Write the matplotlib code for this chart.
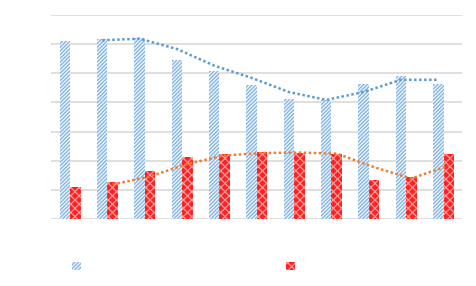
import matplotlib
matplotlib.use("Agg")
import matplotlib.pyplot as plt
import numpy as np
import pandas as pd
from matplotlib.patches import Patch

categories = list(range(1, 12))
blue_vals = [6.10, 6.16, 6.21, 5.45, 5.07, 4.61, 4.10, 4.07, 4.64, 4.91, 4.64]
red_vals = [1.10, 1.27, 1.65, 2.13, 2.23, 2.30, 2.26, 2.23, 1.33, 1.45, 2.23]

BLUE = "#5B9BD5"
BLUE_HATCH = "#80B2E2"
RED_FACE = "#FF2020"
RED_HATCH = "#FF9A9A"
ORANGE = "#ED7D31"
GRID = "#D9D9D9"

plt.rcParams["hatch.linewidth"] = 0.9

fig = plt.figure(figsize=(4.76, 2.86), dpi=100)
ax = fig.add_axes([0.108, 0.234, 0.863, 0.714])

x = np.arange(len(categories))
w = 0.28
ax.bar(x - w / 2, blue_vals, w, facecolor="#EEF5FC", edgecolor=BLUE_HATCH,
       hatch="/////////", linewidth=0, zorder=2)
ax.bar(x + w / 2, red_vals, w, facecolor=RED_FACE, edgecolor=RED_HATCH,
       hatch="xxxx", linewidth=0, zorder=2)

# 2-period moving average trendlines
blue_ma = pd.Series(blue_vals).rolling(2).mean()
red_ma = pd.Series(red_vals).rolling(2).mean()
ax.plot(x - w / 2, blue_ma, color=BLUE, lw=1.8, ls=(0, (1, 1)), zorder=3)
ax.plot(x + w / 2, red_ma, color=ORANGE, lw=1.8, ls=(0, (1, 1)), zorder=3)

ax.set_xlim(-0.5, len(categories) - 0.5)
ax.set_ylim(0, 7)
ax.set_yticks(range(8))
ax.yaxis.grid(True, color=GRID, lw=1.2)
ax.set_axisbelow(True)
ax.tick_params(left=False, bottom=False, labelleft=False, labelbottom=False)
for s in ax.spines.values():
    s.set_visible(False)

h1 = Patch(facecolor="#EEF5FC", edgecolor=BLUE_HATCH, hatch="/////////", linewidth=0)
h2 = Patch(facecolor=RED_FACE, edgecolor=RED_HATCH, hatch="xxxx", linewidth=0)
for h, xpos in [(h1, 0.151), (h2, 0.601)]:
    fig.legend([h], [" "], loc="center left", bbox_to_anchor=(xpos, 0.07),
               frameon=False, fontsize=7, handlelength=0.9, handleheight=0.9,
               handletextpad=0, borderpad=0, borderaxespad=0)

fig.savefig("out.png", dpi=100)
